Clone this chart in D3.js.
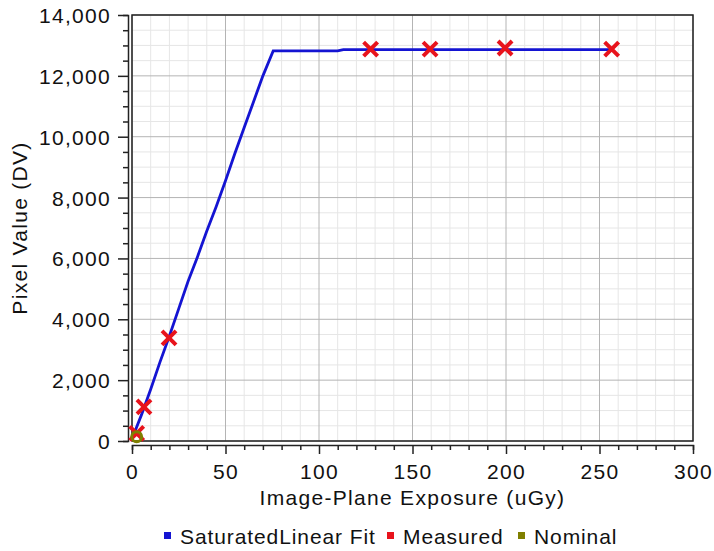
<!DOCTYPE html>
<html lang="en">
<head>
<meta charset="UTF-8">
<title>Pixel Value vs Exposure</title>
<script src="https://d3js.org/d3.v7.min.js"></script>
<style>
  body { margin: 0; background: #fff; }
  text { font-family: "Liberation Sans", Arial, sans-serif; fill: #111; }
</style>
</head>
<body>
<div id="chart"></div>
<script>
// data
const fitX = [0.5, 5, 10, 15, 20, 25, 30, 35, 40, 45, 50, 55, 60, 65, 70, 75.5, 110, 113, 256.5];
const fitY = [150, 850, 1700, 2600, 3450, 4350, 5250, 6050, 6900, 7700, 8550, 9450, 10300, 11150, 12000, 12820, 12820, 12860, 12860];
const measuredX = [2.5, 6.4, 19.8, 127.6, 159.4, 199.5, 256.5];
const measuredY = [250, 1120, 3390, 12880, 12880, 12915, 12880];
const nominalX = [2.5];
const nominalY = [140];
const xTicks = [0, 50, 100, 150, 200, 250, 300];
const yTicks = [0, 2000, 4000, 6000, 8000, 10000, 12000, 14000];
const legendItems = ["SaturatedLinear Fit", "Measured", "Nominal"];
const legendColors = ["#1414d2", "#e8131c", "#7f7f00"];

const W = 714, H = 551;
const plot = {left: 132, right: 693, top: 15, bottom: 441};

const svg = d3.select("#chart").append("svg")
    .attr("width", W).attr("height", H);

const x = d3.scaleLinear().domain([0, 300]).range([plot.left, plot.right]);
const y = d3.scaleLinear().domain([0, 14000]).range([plot.bottom, plot.top]);

// minor grid
svg.append("g").selectAll("line")
    .data(d3.range(0, 301, 10).filter(d => d % 50))
    .join("line")
    .attr("x1", d => x(d)).attr("x2", d => x(d))
    .attr("y1", plot.top).attr("y2", plot.bottom)
    .attr("stroke", "#e6e6e6");
svg.append("g").selectAll("line")
    .data(d3.range(0, 14001, 500).filter(d => d % 2000))
    .join("line")
    .attr("y1", d => y(d)).attr("y2", d => y(d))
    .attr("x1", plot.left).attr("x2", plot.right)
    .attr("stroke", "#e6e6e6");
// major grid
svg.append("g").selectAll("line")
    .data(xTicks)
    .join("line")
    .attr("x1", d => x(d)).attr("x2", d => x(d))
    .attr("y1", plot.top).attr("y2", plot.bottom)
    .attr("stroke", "#b4b4b4");
svg.append("g").selectAll("line")
    .data(yTicks)
    .join("line")
    .attr("y1", d => y(d)).attr("y2", d => y(d))
    .attr("x1", plot.left).attr("x2", plot.right)
    .attr("stroke", "#b4b4b4");

// frame
svg.append("rect")
    .attr("x", plot.left).attr("y", plot.top)
    .attr("width", plot.right - plot.left).attr("height", plot.bottom - plot.top)
    .attr("fill", "none").attr("stroke", "#222").attr("stroke-width", 1.5);

// axes, offset from the frame
const fmt = d3.format(",");
const xAxis = svg.append("g").attr("transform", `translate(0,${plot.bottom + 4})`);
xAxis.call(d3.axisBottom(x).tickValues(d3.range(0, 301, 10)).tickSize(5).tickFormat(""));
xAxis.call(g => g.selectAll(".tick").filter(d => d % 50 === 0).select("line").attr("y2", 9));
xAxis.call(g => g.selectAll(".tick").filter(d => d % 50 === 0).append("text")
    .attr("y", 34).attr("fill", "#111").attr("text-anchor", "middle")
    .style("font-size", "21px").style("letter-spacing", "1.3px")
    .text(d => d));
const yAxis = svg.append("g").attr("transform", `translate(${plot.left - 4},0)`);
yAxis.call(d3.axisLeft(y).tickValues(d3.range(0, 14001, 500)).tickSize(5).tickFormat(""));
yAxis.call(g => g.selectAll(".tick").filter(d => d % 2000 === 0).select("line").attr("x2", -10));
yAxis.call(g => g.selectAll(".tick").filter(d => d % 2000 === 0).append("text")
    .attr("x", -17).attr("dy", "0.36em").attr("fill", "#111").attr("text-anchor", "end")
    .style("font-size", "21px").style("letter-spacing", "1.3px")
    .text(d => fmt(d)));
svg.selectAll(".domain, .tick line").attr("stroke", "#222").attr("stroke-width", 1.5);

// axis titles
svg.append("text")
    .attr("x", (plot.left + plot.right) / 2).attr("y", 505)
    .attr("text-anchor", "middle")
    .style("font-size", "21px").style("letter-spacing", "1.3px")
    .text("Image-Plane Exposure (uGy)");
svg.append("text")
    .attr("transform", `translate(27,${(plot.top + plot.bottom) / 2}) rotate(-90)`)
    .attr("text-anchor", "middle")
    .style("font-size", "21px").style("letter-spacing", "1.3px")
    .text("Pixel Value (DV)");

// fit line
svg.append("path")
    .datum(fitX.map((d, i) => [d, fitY[i]]))
    .attr("d", d3.line().x(d => x(d[0])).y(d => y(d[1])))
    .attr("fill", "none")
    .attr("stroke", legendColors[0])
    .attr("stroke-width", 2.8);

// measured X markers
const s = 7;
svg.append("g").selectAll("path")
    .data(measuredX.map((d, i) => [d, measuredY[i]]))
    .join("path")
    .attr("d", d => {
        const cx = x(d[0]), cy = y(d[1]);
        return `M${cx - s},${cy - s}L${cx + s},${cy + s}M${cx - s},${cy + s}L${cx + s},${cy - s}`;
    })
    .attr("stroke", legendColors[1])
    .attr("stroke-width", 4);

// nominal markers
svg.append("g").selectAll("circle")
    .data(nominalX.map((d, i) => [d, nominalY[i]]))
    .join("circle")
    .attr("cx", d => x(d[0])).attr("cy", d => y(d[1]))
    .attr("r", 5)
    .attr("fill", "none")
    .attr("stroke", legendColors[2])
    .attr("stroke-width", 3);

// legend
const legendX = [164, 387, 518];
const legend = svg.append("g");
legendItems.forEach((name, i) => {
    legend.append("rect")
        .attr("x", legendX[i]).attr("y", 532)
        .attr("width", 7).attr("height", 7)
        .attr("fill", legendColors[i]);
    legend.append("text")
        .attr("x", legendX[i] + 16).attr("y", 544)
        .style("font-size", "21px").style("letter-spacing", "0.9px")
        .text(name);
});
</script>
</body>
</html>
